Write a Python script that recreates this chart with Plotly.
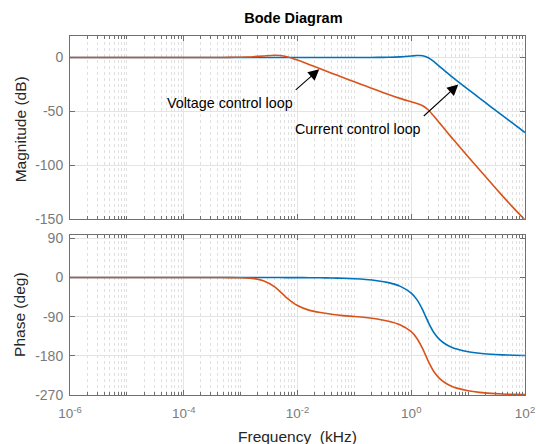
import plotly.graph_objects as go

# Frequencies (kHz)
freq = [1e-6, 1e-5, 1e-4, 3.98e-4, 6.31e-4, 1e-3, 1.585e-3, 2.512e-3, 3.981e-3, 6.31e-3,
        1e-2, 1.585e-2, 2.512e-2, 3.981e-2, 6.31e-2, 0.1, 0.1585, 0.2512, 0.3981, 0.631,
        1.0, 1.259, 1.585, 1.995, 2.512, 3.162, 3.981, 5.012, 6.31, 10,
        15.85, 25.12, 39.81, 63.1, 100]

# Current control loop (blue)
current_mag = [0, 0, 0, 0, 0, 0, 0, 0, 0, 0,
               0, 0, 0, 0, 0.01, 0.02, 0.04, 0.1, 0.25, 0.6,
               1.4, 1.8, 1.7, -0.2, -3.9, -8.4, -12.8, -17.2, -21.4, -29.6,
               -37.7, -45.8, -53.8, -61.8, -69.8]
current_phase = [0, 0, 0, 0, 0, 0, -0.1, -0.1, -0.1, -0.2,
                 -0.3, -0.5, -0.7, -1.1, -1.8, -2.9, -4.6, -7.3, -11.8, -19.8,
                 -35.9, -50.9, -74.2, -102.9, -127.0, -142.8, -152.9, -159.6, -164.4, -170.5,
                 -174.1, -176.3, -177.7, -178.5, -179.1]

# Voltage control loop (orange)
voltage_mag = [0, 0, 0, 0.05, 0.12, 0.3, 0.7, 1.4, 2.1, 1.0,
               -2.4, -6.4, -10.5, -14.6, -18.6, -22.6, -26.6, -30.5, -34.4, -38.0,
               -41.2, -42.8, -44.9, -48.8, -54.6, -61.0, -67.4, -73.8, -80.0, -92.2,
               -104.3, -116.4, -128.4, -140.0, -151.0]
voltage_phase = [0, 0, 0, 0, -0.2, -0.6, -2.1, -7.3, -21.6, -45.4,
                 -64.5, -75.0, -80.5, -84.5, -87.5, -89.5, -92.0, -95.5, -100.5, -108.5,
                 -124.5, -140.0, -163.5, -192.5, -216.5, -232.5, -242.5, -249.3, -254.2, -260.3,
                 -264.0, -266.3, -267.7, -268.5, -269.1]

x_major = [1e-6, 1e-4, 1e-2, 1, 100]
x_major_text = ["10<sup>-6</sup>", "10<sup>-4</sup>", "10<sup>-2</sup>", "10<sup>0</sup>", "10<sup>2</sup>"]
mag_ticks = [0, -50, -100, -150]
mag_tick_text = ["0", "-50", "-100", "-150"]
phase_ticks = [90, 0, -90, -180, -270]
phase_tick_text = ["90", "0", "-90", "-180", "-270"]

BLUE = "#0072BD"
ORANGE = "#D95319"
FONT = "Liberation Sans, Arial, sans-serif"
TICKC = "#7a7a7a"
LINEC = "#707070"
GRIDC = "#e4e4e4"
MINORC = "#e0e0e0"

minor_vals = [m * 10 ** e for e in range(-6, 2) for m in range(1, 10)
              if not (m == 1 and e % 2 == 0)]

LINE = dict(width=1.6, shape="spline", smoothing=0.6)

fig = go.Figure()
fig.add_trace(go.Scatter(x=freq, y=current_mag, mode="lines", line=dict(color=BLUE, **LINE),
                         xaxis="x", yaxis="y", showlegend=False))
fig.add_trace(go.Scatter(x=freq, y=voltage_mag, mode="lines", line=dict(color=ORANGE, **LINE),
                         xaxis="x", yaxis="y", showlegend=False))
fig.add_trace(go.Scatter(x=freq, y=current_phase, mode="lines", line=dict(color=BLUE, **LINE),
                         xaxis="x2", yaxis="y2", showlegend=False))
fig.add_trace(go.Scatter(x=freq, y=voltage_phase, mode="lines", line=dict(color=ORANGE, **LINE),
                         xaxis="x2", yaxis="y2", showlegend=False))

def xax(show_labels, anchor):
    return dict(type="log", range=[-6, 2], domain=[0, 1], anchor=anchor, automargin=False,
                tickvals=x_major, ticktext=x_major_text, showticklabels=show_labels,
                ticks="inside", ticklen=5, tickcolor=LINEC, mirror="ticks",
                showline=True, linecolor=LINEC, linewidth=1, ticklabelstandoff=6,
                showgrid=True, gridcolor=GRIDC, gridwidth=1, zeroline=False,
                tickfont=dict(family=FONT, size=13.5, color=TICKC),
                minor=dict(tickvals=minor_vals, ticks="inside", ticklen=3, tickcolor=LINEC,
                           showgrid=True, gridcolor=MINORC, griddash="dot", gridwidth=1))

def yax(rng, ticks, text, domain, anchor):
    return dict(range=rng, tickvals=ticks, ticktext=text, domain=domain, anchor=anchor,
                automargin=False,
                ticks="inside", ticklen=5, tickcolor=LINEC, mirror="ticks",
                showline=True, linecolor=LINEC, linewidth=1, ticklabelstandoff=3,
                showgrid=True, gridcolor=GRIDC, gridwidth=1, zeroline=False,
                tickfont=dict(family=FONT, size=14, color=TICKC))

fig.update_layout(
    width=536, height=444,
    margin=dict(l=70, r=11, t=36, b=49),
    paper_bgcolor="white", plot_bgcolor="white",
    xaxis=xax(False, "y"),
    yaxis=yax([-150, 20], mag_ticks, mag_tick_text, [0.4907, 1], "x"),
    xaxis2=xax(True, "y2"),
    yaxis2=yax([-270, 98], phase_ticks, phase_tick_text, [0, 0.4461], "x2"),
    title=dict(text="<b>Bode Diagram</b>", x=0.491, xref="paper", xanchor="center",
               y=1 - 18 / 444, yanchor="middle",
               font=dict(family=FONT, size=14.5, color="#000000")),
    annotations=[
        dict(text="Magnitude (dB)", xref="paper", yref="paper", x=-0.11, y=0.74, textangle=-90,
             showarrow=False, xanchor="center", yanchor="middle",
             font=dict(family=FONT, size=15.5, color="#262626")),
        dict(text="Phase (deg)", xref="paper", yref="paper", x=-0.11, y=0.223, textangle=-90,
             showarrow=False, xanchor="center", yanchor="middle",
             font=dict(family=FONT, size=15.5, color="#262626")),
        dict(text="Frequency\u00a0\u00a0(kHz)", xref="paper", yref="paper", x=0.5, y=-0.115,
             showarrow=False, xanchor="center", yanchor="middle",
             font=dict(family=FONT, size=15.5, color="#262626")),
        dict(text="Voltage control loop", xref="x", yref="y", x=-3.187, y=-42.1,
             showarrow=False, xanchor="center", yanchor="middle",
             font=dict(family=FONT, size=14.3, color="#000000")),
        dict(text="Current control loop", xref="x", yref="y", x=-0.93, y=-66.8,
             showarrow=False, xanchor="center", yanchor="middle",
             font=dict(family=FONT, size=14.3, color="#000000")),
        dict(text="", xref="x", yref="y", x=-1.618, y=-10.9, ax=-25, ay=22,
             showarrow=True, arrowhead=2, arrowsize=2, arrowwidth=1.1, arrowcolor="#000000"),
        dict(text="", xref="x", yref="y", x=0.827, y=-25.0, ax=-36, ay=33,
             showarrow=True, arrowhead=2, arrowsize=2, arrowwidth=1.1, arrowcolor="#000000"),
    ],
)

fig.write_html("out.html")
